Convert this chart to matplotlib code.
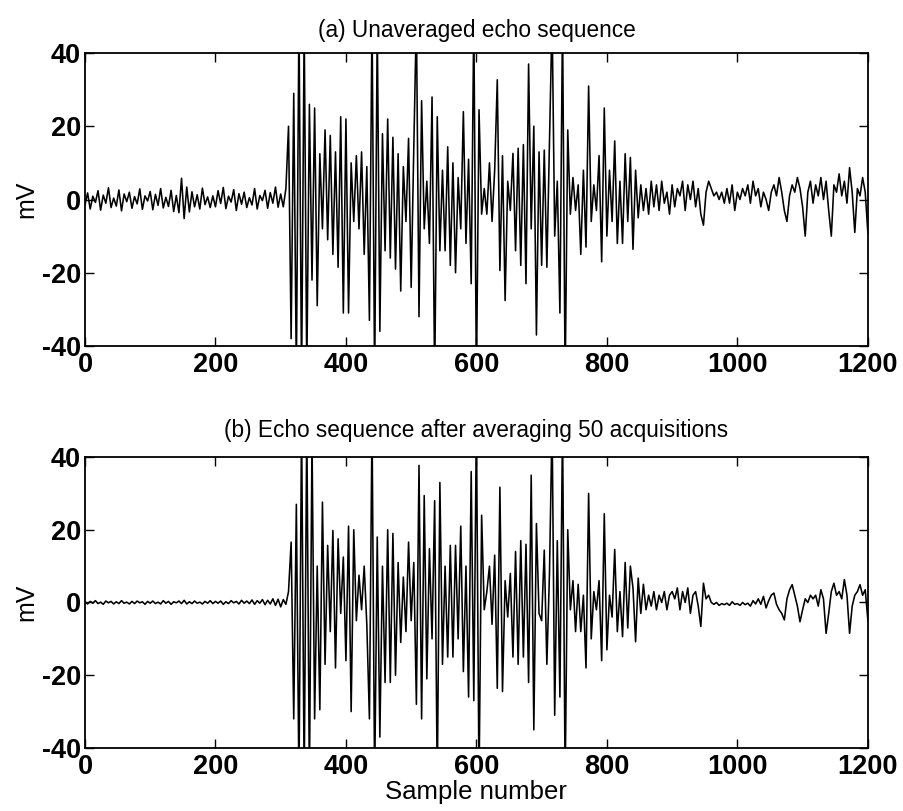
import numpy as np
import matplotlib
matplotlib.use("Agg")
import matplotlib.pyplot as plt

# Sample positions of the stored values (every 4th sample, 0..1200)
sample_step = 4
sample_max = 1200

# (a) single acquisition, mV, one row per 100 samples
unaveraged_mv = [
    -1.5, 1.8, -2.6, 0.9, -0.8, 2.4, -2.9, 1.2, -1.0, 3.2, -2.2, 0.4, -1.8, 2.6, -3.1, 1.5, -0.6, 2.0, -2.4, 0.8, -1.2, 2.9, -2.7, 1.0, -0.4,
    2.2, -2.8, 1.4, -1.6, 3.0, -2.3, 0.6, -1.9, 2.5, -3.3, 1.1, -3.6, 5.8, -5.2, 3.4, -3.4, 2.1, -2.0, 1.3, -2.6, 3.1, -1.4, 0.7, -2.2, 1.0,
    -2.0, 2.4, -1.1, 3.3, -2.5, 0.9, -0.7, 2.7, -3.0, 1.6, -1.3, 2.0, -2.2, 0.5, -1.5, 3.0, -2.6, 1.1, -0.3, 2.5, -2.4, 1.9, -1.0, 3.4, -2.1,
    1.5, -2.0, 3.0, 20.0, -38.0, 29.0, -48.0, 50.0, -50.0, 48.0, -48.0, 26.0, -22.0, 25.0, -29.0, 12.5, -8.0, 19.0, -11.0, 17.5, -15.0, 13.0, -18.5, 22.6, -31.0,
    22.0, -31.0, 10.0, -6.0, 12.0, -8.0, 13.0, -15.0, 9.0, -33.0, 50.0, -50.0, 48.0, -36.0, 18.0, -14.0, 22.0, -16.0, 17.0, -19.0, 12.5, -25.0, 9.0, -6.0, 16.7,
    -24.0, 14.0, 50.0, -32.0, 27.0, -8.0, 5.0, -12.0, 28.0, -50.0, 22.6, -14.0, 8.0, -14.0, 14.4, -18.0, 10.0, -20.0, 6.0, -8.0, 24.0, -12.0, 11.0, -23.0, 50.0,
    -50.0, 24.5, -4.0, 3.0, -4.0, 10.0, -6.0, 8.0, 32.7, -19.4, 12.0, -27.6, 5.0, -3.0, 12.6, -14.0, 14.0, -18.0, 15.0, -23.0, 37.0, -8.0, 20.0, -37.0, 13.0,
    -18.0, 13.5, -18.5, 16.0, 50.0, -10.0, 5.0, -31.0, 50.0, -50.0, 19.0, -4.0, 6.0, -3.0, 4.0, -15.0, 8.0, -13.0, 31.0, -6.0, 4.0, -3.0, 12.0, -17.0, 25.0,
    -10.0, 8.0, -6.0, 16.0, -12.0, 5.0, -12.0, 12.5, -6.0, 11.5, -13.6, 8.0, -5.0, 4.0, -3.0, 3.0, -4.0, 5.0, -2.0, 4.0, -3.0, 5.0, -1.0, 2.0, -4.0,
    4.0, -2.0, 3.0, 1.0, 5.0, -3.0, 4.0, 0.0, 5.0, -2.0, 3.0, -4.0, -7.0, 2.0, 5.0, 3.0, 1.0, 2.0, 0.0, 2.0, -1.0, 3.0, -1.0, 4.0, -3.0,
    2.0, 0.0, 3.0, 1.0, 4.0, -1.0, 5.0, 1.0, 3.0, -2.0, 2.0, 0.0, -3.0, 2.0, 4.0, 1.0, 6.0, 2.0, -3.0, -6.0, 1.0, 4.0, 2.0, 6.0, 3.0,
    -2.0, -10.0, 2.0, 5.0, -1.0, 4.0, 1.0, 6.0, 0.0, 5.0, -3.0, -10.0, 4.0, 2.0, 7.0, 1.0, 5.0, -1.0, 8.7, 2.0, -9.0, 3.0, 1.0, 6.0, 2.0,
    -9.0,
]

# (b) average of 50 acquisitions, mV
averaged_mv = [
    0.2, -0.4, 0.3, -0.2, 0.5, -0.3, 0.1, -0.5, 0.4, -0.1, 0.3, -0.4, 0.2, -0.3, 0.5, -0.2, 0.1, -0.4, 0.3, -0.3, 0.4, -0.1, 0.2, -0.5, 0.3,
    -0.2, 0.4, -0.3, 0.1, -0.4, 0.5, -0.2, 0.3, -0.5, 0.2, -0.1, 0.4, -0.3, 0.6, -0.4, 0.2, -0.3, 0.4, -0.2, 0.1, -0.4, 0.3, -0.2, 0.5, -0.3,
    0.3, -0.2, 0.4, -0.5, 0.2, -0.3, 0.5, -0.1, 0.3, -0.4, 0.6, -0.2, 0.4, -0.3, 0.7, -0.5, 0.5, -0.2, 0.8, -0.6, 0.6, -0.4, 1.0, -0.8, 0.9,
    -1.2, 0.8, -0.5, 3.0, 16.6, -32.0, 27.0, -50.0, 50.0, -50.0, 50.0, -50.0, 45.0, -32.0, 10.0, -29.5, 27.6, -17.0, 15.7, -8.0, 19.8, -18.0, 17.5, -3.0, 12.5,
    -16.0, 21.0, -30.0, 20.0, -5.0, 7.5, -2.0, 10.0, -6.0, -32.0, 50.0, -50.0, 18.0, -37.0, 10.0, -22.0, 20.0, -22.0, 19.0, -20.0, 11.0, -11.0, 7.0, -8.0, 16.6,
    -5.0, 11.0, -28.0, 37.7, -32.0, 29.4, -21.0, 14.8, -10.0, 28.0, -50.0, 33.0, -17.0, 10.0, -15.0, 15.7, -15.0, 15.7, -10.0, 21.0, -19.0, 10.0, -26.0, 36.0, -27.0,
    50.0, -50.0, 24.0, -2.0, 3.0, 10.0, -6.0, 13.0, -23.6, 31.7, -24.5, 6.0, -4.0, 8.0, -15.0, 14.0, -17.0, 17.0, -15.0, 16.0, -22.0, 35.0, -35.0, 21.7, -3.0,
    -5.0, 14.4, -17.0, 8.0, 50.0, -31.0, 17.0, -26.0, 50.0, -50.0, 20.0, -2.0, 6.0, -8.0, 5.0, -8.0, 2.0, -18.0, 30.0, -10.0, 3.0, -2.0, 6.0, -16.0, 24.4,
    -13.0, 2.0, -4.0, 14.6, -8.0, 3.0, -9.4, 11.0, -7.0, 10.0, 4.0, -10.8, 6.7, -3.0, 5.0, -2.0, 2.0, -1.0, 3.0, -2.0, 2.0, 0.0, 3.0, -2.0, 2.0,
    3.0, 1.0, 4.0, -2.0, 3.0, 0.0, 4.0, -3.0, 2.0, 3.0, -1.0, -6.6, 5.3, 1.0, 2.0, 0.0, -0.5, 0.0, -0.8, -0.3, -0.6, -0.2, -0.8, 0.2, -0.5,
    -0.3, -0.8, 0.0, -0.6, -0.2, -1.0, 0.5, -0.4, 1.0, -0.5, 1.7, -1.5, 0.5, 2.0, 2.6, -0.5, -2.0, -3.0, -4.8, 1.0, 3.5, 4.9, 2.0, -1.0, -5.3,
    -2.0, 1.0, 0.0, 2.0, 1.0, 2.0, -1.0, 3.5, 1.0, -8.5, -3.0, 3.0, 5.3, 2.0, 3.0, 1.0, 6.3, 2.0, -8.5, -1.0, 2.0, 3.0, 4.9, 2.0, 3.5,
    -4.8,
]

panel_titles = [
    "(a) Unaveraged echo sequence",
    "(b) Echo sequence after averaging 50 acquisitions",
]
x_ticks = [0, 200, 400, 600, 800, 1000, 1200]
y_ticks = [-40, -20, 0, 20, 40]
y_label = "mV"
x_label = "Sample number"

samples = np.arange(0, sample_max + 1, sample_step)

plt.rcParams["font.family"] = ["Liberation Sans", "DejaVu Sans"]
plt.rcParams["axes.unicode_minus"] = False

fig = plt.figure(figsize=(9.04, 8.11), dpi=100)
ax_top = fig.add_axes([0.094, 0.5734, 0.866, 0.3612])
ax_bot = fig.add_axes([0.094, 0.0777, 0.866, 0.3588])

for ax, series, title, tpad in zip((ax_top, ax_bot), (unaveraged_mv, averaged_mv),
                                   panel_titles, (11.5, 14.5)):
    ax.plot(samples, series, color="black", linewidth=1.15)
    ax.set_xlim(0, 1200)
    ax.set_ylim(-40, 40)
    ax.set_xticks(x_ticks)
    ax.set_yticks(y_ticks)
    ax.tick_params(direction="in", length=6.5, width=1.0, top=True, right=True,
                   labelsize=19.5, pad=4)
    ax.tick_params(axis="y", pad=3)
    for lab in ax.get_xticklabels() + ax.get_yticklabels():
        lab.set_fontweight("bold")
    for sp in ax.spines.values():
        sp.set_linewidth(1.3)
    ax.set_title(title, fontsize=16.3, pad=tpad)
    ax.set_ylabel(y_label, fontsize=18, labelpad=2)

ax_bot.set_xlabel(x_label, fontsize=18.5, labelpad=0)

fig.savefig("out.png", dpi=100)
